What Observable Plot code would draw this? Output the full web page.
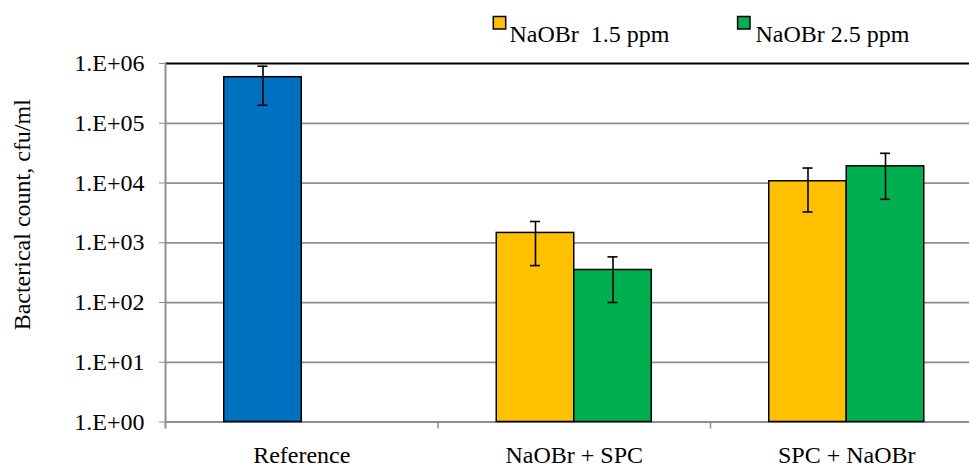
<!DOCTYPE html>
<html><head><meta charset="utf-8">
<script src="https://cdn.jsdelivr.net/npm/d3@7"></script>
<script src="https://cdn.jsdelivr.net/npm/@observablehq/plot@0.6"></script>
<style>html,body{margin:0;padding:0;background:#fff;overflow:hidden}</style>
</head><body><div id="chart"></div>
<script>
// ---- data ----
const categories = ["Reference", "NaOBr + SPC", "SPC + NaOBr"];
const seriesLabels = ["NaOBr\u00a0 1.5 ppm", "NaOBr 2.5 ppm"];
const referenceMean = [590000];
const referenceLow = [200000];
const referenceHigh = [900000];
const mean15 = [null, 1460, 10700];
const low15 = [null, 415, 3270];
const high15 = [null, 2270, 17800];
const mean25 = [null, 350, 19000];
const low25 = [null, 100, 5330];
const high25 = [null, 580, 31400];
const yTickValues = [1, 10, 100, 1000, 10000, 100000, 1000000];
const yTickLabels = ["1.E+00", "1.E+01", "1.E+02", "1.E+03", "1.E+04", "1.E+05", "1.E+06"];
const yTitle = "Bacterical count, cfu/ml";

// ---- styles ----
const referenceColor = "#0070C0";
const seriesColors = ["#FFC000", "#00B050"];
const gridColor = "#8e8e8e";
const font = "'Liberation Serif', 'Times New Roman', serif";

// within-category slot layout
const sub = d3.scaleBand().domain([0, 1]).range([0, 1]).paddingInner(0).paddingOuter(0.758);

const rows = [];
rows.push({i: 0, slot: 0, v: referenceMean[0], lo: referenceLow[0], hi: referenceHigh[0], fill: referenceColor});
for (let i = 1; i < categories.length; i++) {
  rows.push({i, slot: 0, v: mean15[i], lo: low15[i], hi: high15[i], fill: seriesColors[0]});
  rows.push({i, slot: 1, v: mean25[i], lo: low25[i], hi: high25[i], fill: seriesColors[1]});
}
rows.forEach(r => { r.x1 = r.i + sub(r.slot); r.x2 = r.x1 + sub.bandwidth(); r.xc = (r.x1 + r.x2) / 2; });

const capHalf = 0.0185;      // half width of error caps (x units)
const tickDepth = 0.765;     // how far boundary ticks reach below 1 (y units)

const plot = Plot.plot({
  width: 969, height: 468,
  marginLeft: 165, marginRight: -13.5, marginTop: 63, marginBottom: 46.5,
  style: {fontFamily: font, fontSize: "24px", background: "#fff", color: "#000", overflow: "hidden"},
  x: {type: "linear", domain: [0, 3]},
  y: {type: "log", domain: [1, 1e6]},
  color: {type: "identity"},
  marks: [
    Plot.ruleY(yTickValues.slice(1, -1), {y: d => d, stroke: gridColor, strokeWidth: 1.75}),
    Plot.ruleY([1], {y: d => d, stroke: gridColor, strokeWidth: 2}),
    Plot.ruleY([1e6], {y: d => d, stroke: "#000", strokeWidth: 2}),
    Plot.ruleX([0], {x: d => d, y1: d => tickDepth, y2: d => 1e6, stroke: gridColor, strokeWidth: 2}),
    Plot.ruleX([1, 2, 3], {x: d => d, y1: d => tickDepth, y2: d => 1, stroke: gridColor, strokeWidth: 1.5}),
    Plot.rectY(rows, {x1: "x1", x2: "x2", y1: d => 1, y2: "v", fill: "fill", stroke: "#000", strokeWidth: 1.5}),
    Plot.ruleX(rows, {x: "xc", y1: "lo", y2: "hi", stroke: "#000", strokeWidth: 1.6}),
    Plot.ruleY(rows, {y: "lo", x1: d => d.xc - capHalf, x2: d => d.xc + capHalf, stroke: "#000", strokeWidth: 1.6}),
    Plot.ruleY(rows, {y: "hi", x1: d => d.xc - capHalf, x2: d => d.xc + capHalf, stroke: "#000", strokeWidth: 1.6}),
    Plot.axisY({ticks: yTickValues, tickFormat: d => yTickLabels[yTickValues.indexOf(d)], tickSize: 6, tickPadding: 15, stroke: gridColor, fill: "#000", label: null, fontSize: 24, fontFamily: font}),
    Plot.axisX({ticks: categories.map((c, i) => i + 0.5), tickFormat: d => categories[Math.floor(d)], tickSize: 0, tickPadding: 24, fill: "#000", label: null, fontSize: 24, fontFamily: font}),
    Plot.text([yTitle], {frameAnchor: "left", text: d => d, textAnchor: "middle", rotate: -90, dx: -143, dy: -28, fontSize: 24, fontFamily: font, fill: "#000"}),
    Plot.dot([seriesLabels[0]], {frameAnchor: "top-left", symbol: "square", r: 7, dx: 334, dy: -40.8, fill: seriesColors[0], stroke: "#000", strokeWidth: 1.5}),
    Plot.text([seriesLabels[0]], {frameAnchor: "top-left", text: d => d, textAnchor: "start", dx: 344, dy: -38.4, fontSize: 24, fontFamily: font, fill: "#000"}),
    Plot.dot([seriesLabels[1]], {frameAnchor: "top-left", symbol: "square", r: 7, dx: 578.3, dy: -40.8, fill: seriesColors[1], stroke: "#000", strokeWidth: 1.5}),
    Plot.text([seriesLabels[1]], {frameAnchor: "top-left", text: d => d, textAnchor: "start", dx: 590, dy: -38.4, fontSize: 24, fontFamily: font, fill: "#000"})
  ]
});
document.getElementById("chart").appendChild(plot);
</script>
</body></html>
